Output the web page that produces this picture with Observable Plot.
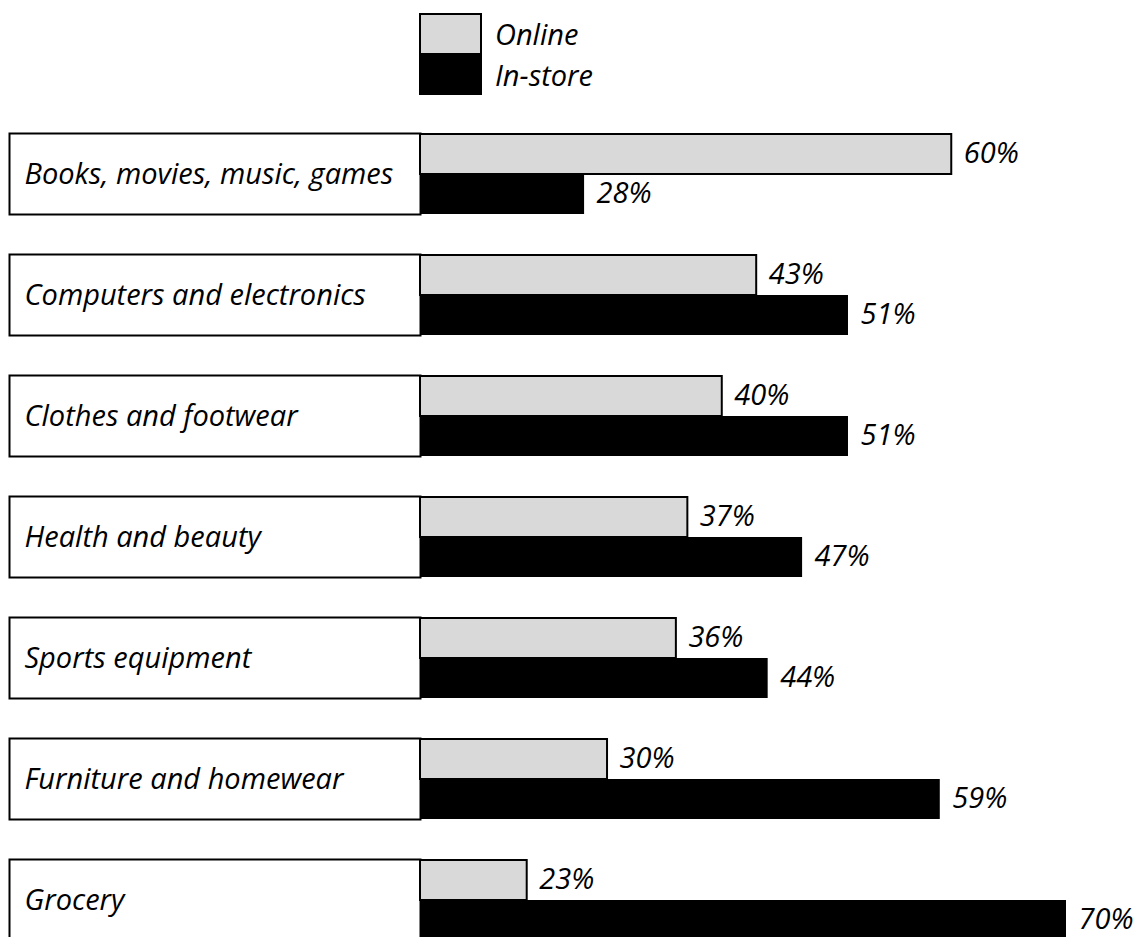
<!DOCTYPE html>
<html>
<head>
<meta charset="utf-8">
<script src="https://cdn.jsdelivr.net/npm/d3@7"></script>
<script src="https://cdn.jsdelivr.net/npm/@observablehq/plot@0.6"></script>
<style>
  html, body { margin: 0; padding: 0; background: white; overflow: hidden; }
  #legend { position: relative; height: 110px; font-family: "Open Sans", sans-serif; font-style: italic; font-size: 29px; color: #000; }
  .sw { position: absolute; box-sizing: border-box; }
  .lt { position: absolute; display: flex; align-items: center; }
</style>
</head>
<body>
<div id="legend"></div>
<div id="chart"></div>
<script>
const categories = [
  "Books, movies, music, games",
  "Computers and electronics",
  "Clothes and footwear",
  "Health and beauty",
  "Sports equipment",
  "Furniture and homewear",
  "Grocery"
];
const series = ["Online", "In-store"];
const onlineValues = [60, 43, 40, 37, 36, 30, 23];
const instoreValues = [28, 51, 51, 47, 44, 59, 70];
const colors = ["#d9d9d9", "#000000"];

const data = [];
categories.forEach((c, i) => {
  data.push({category: c, series: "Online", value: onlineValues[i]});
  data.push({category: c, series: "In-store", value: instoreValues[i]});
});

// Legend
const legend = document.getElementById("legend");
series.forEach((s, i) => {
  const top = 13 + i * 40;
  const h = i === 0 ? 40 : 42;
  const sw = document.createElement("div");
  sw.className = "sw";
  sw.style.cssText = `left:419px;top:${top}px;width:63px;height:${h}px;background:${colors[i]};` +
    (i === 0 ? "border:2px solid #000;border-bottom:none;" : "");
  legend.appendChild(sw);
  const t = document.createElement("div");
  t.className = "lt";
  t.style.cssText = `left:495px;top:${top}px;height:${h}px;`;
  t.textContent = s;
  legend.appendChild(t);
});

const W = 1139;
const mLeft = 420, mRight = 73;
const boxLeft = 9;
const FS = 29;

const chart = Plot.plot({
  width: W,
  height: 830,
  marginLeft: mLeft,
  marginRight: mRight,
  marginTop: 23,
  marginBottom: 0,
  style: {fontFamily: "'Open Sans', sans-serif", fontSize: FS + "px", fontStyle: "italic", color: "#000", background: "white"},
  x: {domain: [13.7, 70], clamp: true, axis: null},
  y: {domain: series, padding: 0, axis: null},
  fy: {domain: categories, paddingInner: 40 / 121, paddingOuter: 0, axis: null, label: null},
  color: {domain: series, range: colors},
  marks: [
    Plot.frame({stroke: "#000", strokeWidth: 2, fill: "white",
      insetLeft: -(mLeft - boxLeft), insetRight: W - mRight - mLeft}),
    Plot.text(categories, {fy: d => d, text: d => d, frameAnchor: "left", dx: -(mLeft - 24), dy: 1,
      textAnchor: "start", fontSize: FS, fontStyle: "italic", fill: "#000"}),
    Plot.barX(data, {fy: "category", y: "series", x: "value", fill: "series",
      stroke: d => d.series === "Online" ? "#000" : "none", strokeWidth: 2}),
    Plot.text(data, {fy: "category", y: "series", x: "value", text: d => d.value + "%",
      dx: 12, dy: -1, textAnchor: "start", fontSize: FS, fontStyle: "italic", fill: "#000"})
  ]
});
document.getElementById("chart").appendChild(chart);
</script>
</body>
</html>
